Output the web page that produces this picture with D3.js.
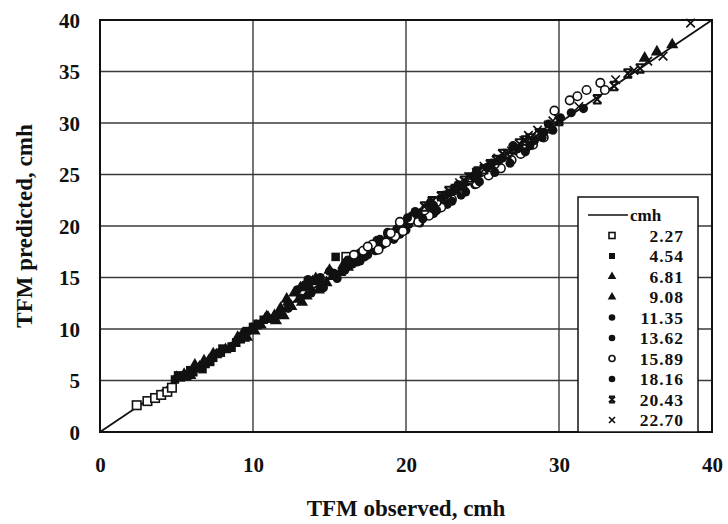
<!DOCTYPE html>
<html>
<head>
<meta charset="utf-8">
<script src="https://cdn.jsdelivr.net/npm/d3@7"></script>
<style>
  html, body { margin: 0; padding: 0; background: #fff; }
  svg text { font-family: "Liberation Serif", "Times New Roman", serif; fill: #111; }
</style>
</head>
<body>
<svg id="chart" width="728" height="524"></svg>
<script>
// Axis ticks
const xTicks = [0, 10, 20, 30, 40];
const yTicks = [0, 5, 10, 15, 20, 25, 30, 35, 40];

// Legend entries (flow rate, cmh) and marker shape per entry
const flowLabels = ["2.27", "4.54", "6.81", "9.08", "11.35", "13.62", "15.89", "18.16", "20.43", "22.70"];
const flowMarkers = ["squareOpen", "square", "triangle", "triangle", "circle", "circle", "circleOpen", "circle", "xBold", "x"];

// [observed, predicted] TFM pairs for each flow rate
const s227 = [[2.4,2.6],[3.1,3.0],[3.6,3.3],[4.0,3.6],[4.4,3.9],[4.7,4.3],[16.1,17.0]];
const s454 = [[4.9,5.1],[5.3,5.3],[5.7,5.4],[6.1,5.8],[6.4,6.2],[6.9,6.6],[7.4,7.2],[7.9,7.7],[8.6,8.3],[9.2,9.0],[9.6,9.8],[10.0,10.2],[15.4,17.0],[11.2,11.0],[11.8,11.5],
  [5.1,5.5],[5.9,6.0],[6.7,6.1],[7.2,6.8],[8.0,8.1],[8.9,8.7],[9.4,9.3],[10.3,10.5],[10.7,10.9]];
const s681 = [[5.0,5.3],[5.5,5.6],[5.9,5.5],[6.5,6.3],[7.1,6.9],[7.6,7.5],[8.2,8.0],[8.8,8.6],[9.3,9.5],[9.9,10.0],[10.5,10.4],[11.0,11.1],[11.5,10.8],[12.0,11.3],[12.5,12.2],
  [6.2,6.5],[6.8,6.9],[7.4,7.6],[8.5,8.1],[9.6,9.2],[10.1,9.8],[10.9,11.2],[11.7,11.6],[12.3,12.6]];
const s908 = [[9.0,9.2],[9.4,9.1],[10.2,10.3],[10.8,11.0],[11.4,11.3],[12.2,12.9],[12.7,13.5],[13.1,14.0],[13.5,13.2],[13.9,14.6],[14.3,13.8],[14.8,14.5],[15.2,15.1],[15.7,15.5],[16.2,16.0],[13.2,12.6],
  [11.8,12.0],[12.4,12.3],[13.0,12.9],[13.7,14.1],[14.1,14.9],[14.5,14.3],[15.0,15.7],[15.9,16.2],[16.5,16.6],[35.6,36.3],[36.4,36.9],[37.4,37.6]];
const s1135 = [[12.3,12.0],[12.9,13.8],[13.4,14.3],[13.8,13.5],[14.2,14.8],[14.6,14.0],[15.0,15.6],[15.5,14.9],[16.0,15.7],[16.5,16.3],[17.0,16.6],[17.5,17.2],[18.0,17.6],[18.5,18.2],[19.0,18.8],[19.4,19.6],[19.9,20.2],
  [13.1,13.0],[13.6,14.8],[14.4,15.0],[15.3,15.4],[16.2,16.7],[16.8,17.0],[17.3,17.7],[18.3,18.7],[18.8,19.4],[19.6,19.2]];
const s1362 = [[16.8,16.5],[17.3,17.0],[17.8,17.9],[18.3,18.0],[18.8,19.2],[19.2,18.7],[19.6,20.0],[20.0,19.6],[20.4,21.0],[20.9,20.3],[21.3,21.8],[21.8,21.2],[22.2,22.6],[22.7,22.1],[23.1,23.4],[23.6,23.0],[24.0,24.3],[24.5,24.0],
  [17.0,17.4],[18.1,18.6],[18.6,18.5],[19.4,19.7],[20.2,20.2],[21.0,21.3],[21.6,21.7],[22.4,22.2],[23.3,23.7],[24.2,24.6],[24.8,25.1]];
const s1589 = [[17.2,17.6],[17.8,18.2],[18.2,17.7],[18.7,18.4],[19.3,19.0],[19.8,19.5],[20.3,20.6],[20.8,20.4],[21.5,21.0],[22.3,21.8],[23.0,22.6],[23.8,23.4],[24.6,24.1],[25.4,24.9],[26.2,25.6],[26.9,26.4],[27.5,27.0],[28.3,27.9],[29.0,28.6],[30.7,32.2],[31.2,32.6],[31.8,33.2],[32.7,33.9],[33.0,33.2],[29.7,31.2],
  [16.6,17.2],[17.5,18.0],[19.0,19.3],[19.6,20.4],[21.2,21.5],[22.0,22.3],[24.2,24.5],[25.0,25.3],[25.8,26.0],[27.8,27.5],[28.7,28.9]];
const s1816 = [[20.1,20.8],[20.6,21.4],[21.1,20.7],[21.6,22.3],[22.0,21.5],[22.5,23.0],[23.0,22.4],[23.4,24.0],[23.9,23.3],[24.4,24.8],[24.8,24.3],[25.3,25.7],[25.8,25.2],[26.3,26.6],[26.8,26.1],[27.3,27.5],[27.8,27.2],[28.4,28.3],[29.0,29.1],[29.6,29.3],[30.1,30.5],[30.8,31.0],[31.6,31.4],
  [20.8,21.2],[21.8,22.0],[22.8,23.2],[23.7,23.8],[24.6,25.3],[25.6,26.1],[26.1,26.4],[27.0,27.8],[28.1,27.8],[28.9,28.6],[29.3,29.9]];
const s2043 = [[21.2,21.9],[22.3,22.9],[23.2,23.6],[24.2,24.7],[25.1,25.5],[25.9,26.4],[26.6,27.0],[27.4,28.0],[28.1,28.5],[28.7,29.0],[29.4,29.5],[30.0,30.2],[32.5,32.3],[33.6,33.6],[34.5,34.8],[35.3,35.3],
  [21.7,22.4],[22.8,23.4],[23.8,24.4],[24.7,25.3],[25.5,26.0],[26.3,27.0],[27.0,27.5],[27.8,28.3]];
const s2270 = [[23.5,24.2],[24.6,25.2],[25.6,26.0],[26.4,26.9],[27.2,27.6],[28.0,28.8],[28.6,29.3],[29.3,29.8],[30.0,30.4],[31.3,31.6],[33.7,34.2],[34.9,35.1],[35.8,36.0],[36.8,36.5],[38.6,39.7],
  [24.1,24.8],[25.1,25.8],[26.0,26.6],[26.9,27.3],[27.7,28.3],[29.6,30.2]];

const seriesData = [s227, s454, s681, s908, s1135, s1362, s1589, s1816, s2043, s2270];

const svg = d3.select("#chart");
const margin = { left: 100, right: 16, top: 20, bottom: 92 };
const W = 728, H = 524;

const x = d3.scaleLinear().domain([0, 40]).range([margin.left, W - margin.right]);
const y = d3.scaleLinear().domain([0, 40]).range([H - margin.bottom, margin.top]);

const ink = "#111";

// gridlines
const grid = svg.append("g");
grid.selectAll("line.gx").data(xTicks.slice(1, -1)).join("line")
  .attr("x1", d => x(d)).attr("x2", d => x(d))
  .attr("y1", y(0)).attr("y2", y(40))
  .attr("stroke", "#3a3a3a").attr("stroke-width", 1.4);
grid.selectAll("line.gy").data(yTicks.slice(1, -1)).join("line")
  .attr("x1", x(0)).attr("x2", x(40))
  .attr("y1", d => y(d)).attr("y2", d => y(d))
  .attr("stroke", "#3a3a3a").attr("stroke-width", 1.4);

// axes (labels only, frame drawn separately)
const xAxis = svg.append("g")
  .attr("transform", `translate(0,${y(0)})`)
  .call(d3.axisBottom(x).tickValues(xTicks).tickSize(0).tickPadding(33).tickFormat(d3.format("d")));
const yAxis = svg.append("g")
  .attr("transform", `translate(${x(0)},0)`)
  .call(d3.axisLeft(y).tickValues(yTicks).tickSize(0).tickPadding(20).tickFormat(d3.format("d")));
[xAxis, yAxis].forEach(g => {
  g.select(".domain").remove();
  g.selectAll("text").attr("font-size", 21).attr("font-weight", "bold")
    .attr("font-family", "Liberation Serif, serif").attr("fill", ink);
});
yAxis.selectAll("text").attr("dy", "0.35em");
xAxis.selectAll("text").attr("dy", "0.35em");

// plot frame
svg.append("rect")
  .attr("x", x(0)).attr("y", y(40))
  .attr("width", x(40) - x(0)).attr("height", y(0) - y(40))
  .attr("fill", "none").attr("stroke", ink).attr("stroke-width", 2);

// 1:1 line
svg.append("line")
  .attr("x1", x(0)).attr("y1", y(0)).attr("x2", x(40)).attr("y2", y(40))
  .attr("stroke", ink).attr("stroke-width", 1.8);

// marker drawing
function drawMarker(g, kind, size) {
  const r = size / 2;
  switch (kind) {
    case "squareOpen":
      g.append("rect").attr("x", -r).attr("y", -r).attr("width", size).attr("height", size)
        .attr("fill", "#fff").attr("stroke", ink).attr("stroke-width", 1.6); break;
    case "square":
      g.append("rect").attr("x", -r).attr("y", -r).attr("width", size).attr("height", size)
        .attr("fill", ink); break;
    case "triangle":
      g.append("path").attr("d", d3.symbol(d3.symbolTriangle, size * size * 0.9)())
        .attr("fill", ink); break;
    case "circle":
      g.append("circle").attr("r", r + 0.3).attr("fill", ink); break;
    case "circleOpen":
      g.append("circle").attr("r", r).attr("fill", "#fff").attr("stroke", ink).attr("stroke-width", 1.6); break;
    case "xBold":
      g.append("path").attr("d", `M${-r},${-r}L${r},${r}M${-r},${r}L${r},${-r}M${-r},${-r}L${r},${-r}M${-r},${r}L${r},${r}`)
        .attr("stroke", ink).attr("stroke-width", 2).attr("fill", "none"); break;
    case "x":
      g.append("path").attr("d", `M${-r},${-r}L${r},${r}M${-r},${r}L${r},${-r}`)
        .attr("stroke", ink).attr("stroke-width", 1.7).attr("fill", "none"); break;
  }
}

// points
const pts = svg.append("g");
seriesData.forEach((data, i) => {
  data.forEach(([o, p]) => {
    const g = pts.append("g").attr("transform", `translate(${x(o)},${y(p)})`);
    drawMarker(g, flowMarkers[i], 8.5);
  });
});

// legend
const lg = svg.append("g");
const lgX0 = 578, lgX1 = 698, lgTop = 197, lgBottom = y(0);
lg.append("rect").attr("x", lgX0).attr("y", lgTop).attr("width", lgX1 - lgX0).attr("height", lgBottom - lgTop)
  .attr("fill", "#fff").attr("stroke", ink).attr("stroke-width", 1.5);
const rowY0 = 215, rowStep = 20.5;
lg.append("line").attr("x1", 588).attr("x2", 628).attr("y1", rowY0).attr("y2", rowY0)
  .attr("stroke", ink).attr("stroke-width", 1.6);
lg.append("text").attr("x", 630).attr("y", rowY0).attr("dy", "0.35em")
  .attr("font-size", 17).attr("font-weight", "bold").text("cmh");
flowLabels.forEach((lab, i) => {
  const cy = rowY0 + rowStep * (i + 1);
  const g = lg.append("g").attr("transform", `translate(612,${cy})`);
  drawMarker(g, flowMarkers[i], 6);
  lg.append("text").attr("x", 684).attr("y", cy).attr("dy", "0.35em")
    .attr("text-anchor", "end").attr("font-size", 17.5).attr("font-weight", "bold")
    .attr("letter-spacing", 1).text(lab);
});

// axis titles
svg.append("text")
  .attr("x", (x(0) + x(40)) / 2).attr("y", 508).attr("dy", "0.35em")
  .attr("text-anchor", "middle").attr("font-size", 23).attr("font-weight", "bold")
  .text("TFM observed, cmh");
svg.append("text")
  .attr("transform", `translate(24,${(y(0) + y(40)) / 2}) rotate(-90)`)
  .attr("dy", "0.35em")
  .attr("text-anchor", "middle").attr("font-size", 23).attr("font-weight", "bold")
  .text("TFM predicted, cmh");
</script>
</body>
</html>
